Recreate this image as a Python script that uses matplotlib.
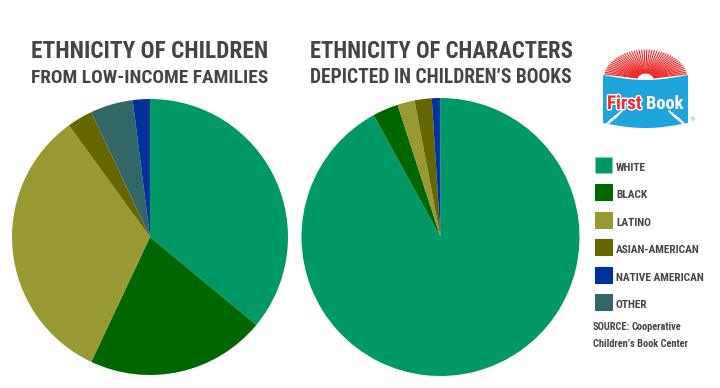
import numpy as np
import matplotlib
matplotlib.use('Agg')
import matplotlib.pyplot as plt
from matplotlib import font_manager as fm
from matplotlib.patches import Polygon, Rectangle
import matplotlib.patheffects as pe

# datos
categorias = ['WHITE', 'BLACK', 'LATINO', 'ASIAN-AMERICAN', 'NATIVE AMERICAN', 'OTHER']
colores = ['#009966', '#006600', '#999933', '#666600', '#003399', '#336666']
ninos = [36, 21, 33, 3, 2, 5]          # low-income families (%)
personajes = [92, 3, 2, 2, 1, 0]       # characters in children's books (%)
# orden de las porciones en sentido horario desde arriba
orden = [0, 1, 2, 3, 5, 4]

titulo1 = ['ETHNICITY OF CHILDREN', 'FROM LOW-INCOME FAMILIES']
titulo2 = ['ETHNICITY OF CHARACTERS', 'DEPICTED IN CHILDREN\u2019S BOOKS']
fuente_txt = ['SOURCE:', 'Cooperative', 'Children\u2019s Book Center']


def peso(f):
    try:
        return int(f.weight)
    except (TypeError, ValueError):
        return 700 if 'bold' in str(f.weight).lower() else 400


# busca una fuente estrecha y gruesa que este instalada
fp_bold = None
for nombre in ['Oswald', 'Roboto Condensed', 'Archivo Narrow', 'PT Sans Narrow',
               'Open Sans Condensed', 'Fjalla One', 'League Gothic']:
    c = [f for f in fm.fontManager.ttflist if f.name == nombre and peso(f) >= 600]
    if not c and nombre in ('Fjalla One', 'League Gothic'):
        c = [f for f in fm.fontManager.ttflist if f.name == nombre]
    if c:
        c.sort(key=lambda f: abs(peso(f) - 700))
        fp_bold = fm.FontProperties(fname=c[0].fname)
        break
if fp_bold is None:
    fp_bold = fm.FontProperties(family=['Liberation Sans Narrow', 'DejaVu Sans'],
                                weight='bold')

GRIS = '#454545'
W, H = 720, 388

fig = plt.figure(figsize=(7.2, 3.88), dpi=100)
fondo = fig.add_axes([0, 0, 1, 1])
fondo.set_xlim(0, W)
fondo.set_ylim(H, 0)
fondo.axis('off')
renderer = fig.canvas.get_renderer()


def texto(x, y, s, ancho, size=12, ha='left', color=GRIS, **kw):
    # ajusta el tamano para que el texto ocupe 'ancho' pixeles
    t = fondo.text(x, y, s, fontproperties=fp_bold.copy(), ha=ha,
                   va='baseline', color=color, **kw)
    t.set_fontsize(size)
    w = t.get_window_extent(renderer).width
    t.set_fontsize(size * ancho / w)
    return t


def pastel(cx, cy, r, valores):
    ax = fig.add_axes([(cx - r) / W, (H - cy - r) / H, 2 * r / W, 2 * r / H])
    vals = [valores[i] for i in orden]
    cols = [colores[i] for i in orden]
    ax.pie(vals, colors=cols, startangle=90, counterclock=False,
           wedgeprops=dict(linewidth=0))
    ax.set_xlim(-1, 1)
    ax.set_ylim(-1, 1)
    ax.set_aspect('equal')
    ax.axis('off')


# titulos
texto(150, 58, titulo1[0], 236, ha='center')
texto(150, 83, titulo1[1], 236, ha='center')
texto(441, 58, titulo2[0], 262, ha='center')
texto(441, 83, titulo2[1], 262, ha='center')

pastel(150, 237, 138, ninos)
pastel(440.5, 237, 139, personajes)

# leyenda
y0 = 165
etiquetas = []
for i, (cat, col) in enumerate(zip(categorias, colores)):
    y = y0 + i * 27.4
    borde = '#80ccb2' if i == 0 else col
    fondo.add_patch(Rectangle((595, y - 8), 17, 16, facecolor=col,
                              edgecolor=borde, lw=0.8))
    t = fondo.text(616, y + 6, cat, fontproperties=fp_bold.copy(),
                   color=GRIS, va='baseline')
    t.set_fontsize(11)
    etiquetas.append(t)
escala = 88 / etiquetas[4].get_window_extent(renderer).width
for t in etiquetas:
    t.set_fontsize(11 * escala)

t2 = texto(593, 347, fuente_txt[2], 96)
tam = t2.get_fontsize()
t0 = fondo.text(593, 330, fuente_txt[0], fontproperties=fp_bold.copy(),
                color=GRIS, va='baseline')
t0.set_fontsize(tam)
x1 = 593 + t0.get_window_extent(renderer).width + 1
t1 = fondo.text(x1, 330, fuente_txt[1], fontproperties=fp_bold.copy(),
                color=GRIS, va='baseline')
t1.set_fontsize(tam)

# logo First Book (aproximado)
cx, cy = 645.5, 79
for a in np.linspace(10, 170, 46):
    ra = np.radians(a)
    fondo.plot([cx + 8 * np.cos(ra), cx + 42 * np.cos(ra)],
               [cy - 8 * np.sin(ra) * 0.7, cy - 42 * np.sin(ra) * 0.7],
               color='#ee2a2a', lw=0.8, solid_capstyle='butt')
xs = np.linspace(603, 688, 30)
arriba = 75 + 5 * np.sin(np.pi * (xs - 603) / 85)
abajo = 123 + 5 * np.sin(np.pi * (xs - 603) / 85)
libro = np.vstack([np.column_stack([xs, arriba]),
                   np.column_stack([xs[::-1], abajo[::-1]])])
fondo.add_patch(Polygon(libro, closed=True, facecolor='#1da5dc',
                        edgecolor='none', zorder=3))
tf = texto(607, 109, 'First', 35, color='#ee2a2a', zorder=4)
tf.set_path_effects([pe.withStroke(linewidth=2, foreground='white')])
tb = texto(646, 109, 'Book', 38, color='white', zorder=4)
for k in range(4):
    fondo.plot([606 + 3.2 * k, 612 + 3.2 * k], [125 - 2.6 * k, 119 - 2.6 * k],
               color='white', lw=1.4, zorder=4)
    fondo.plot([685 - 3.2 * k, 679 - 3.2 * k], [125 - 2.6 * k, 119 - 2.6 * k],
               color='white', lw=1.4, zorder=4)
fondo.text(692, 120, '\u00ae', fontsize=4, color='#1da5dc', ha='center',
           va='center', family='DejaVu Sans')

plt.savefig('out.png', dpi=100)
